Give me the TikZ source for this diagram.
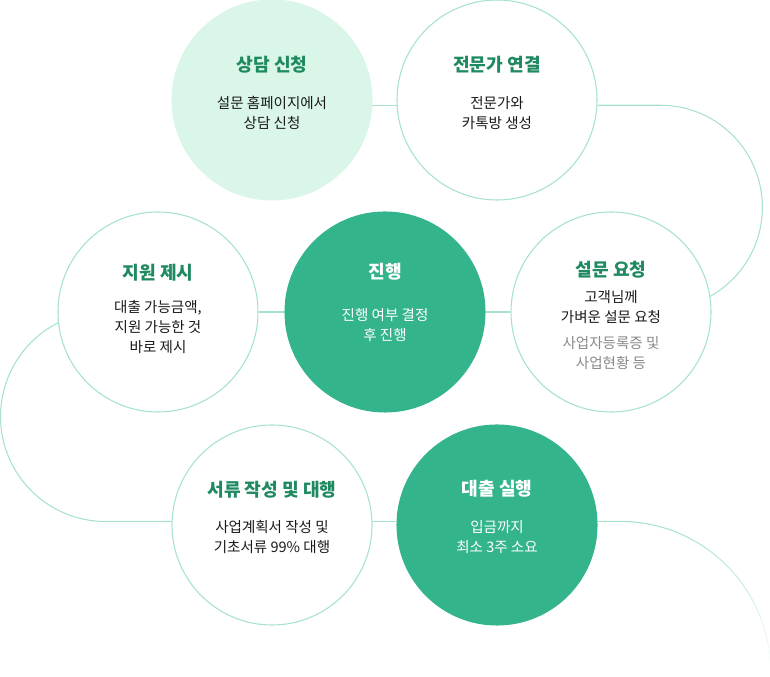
\documentclass[tikz,border=0pt]{standalone}
\usepackage{fontspec}
\setmainfont{Noto Sans CJK KR}
\usetikzlibrary{positioning, fadings}
\definecolor{stepline}{HTML}{A6E3C8}
\definecolor{steplight}{HTML}{DAF6E8}
\definecolor{stepgreen}{HTML}{34B48C}
\definecolor{steptitle}{HTML}{1F8A5F}
\definecolor{stepgray}{HTML}{8A8A8A}
\definecolor{stepbody}{HTML}{1A1A1A}

\begin{document}
\begin{tikzpicture}[x=0.75pt, y=0.75pt,
    stepdot/.style={circle, draw=stepline, line width=0.8pt, fill=white,
                    minimum size=150pt, inner sep=0pt},
    stepfull/.style={stepdot, draw=stepgreen, fill=stepgreen},
    titletext/.style={font=\fontsize{13.6}{15}\selectfont\bfseries, text=steptitle, inner sep=0pt},
    bodytext/.style={font=\fontsize{10.9}{15}\selectfont, text=stepbody, align=center, inner sep=0pt},
    link/.style={draw=stepline, line width=0.8pt}]
  \useasboundingbox (0,0) rectangle (770,677);

  % circles
  \node[stepdot, fill=steplight, draw=steplight] (sangdam) at (272,577) {};
  \node[stepdot] (jeonmunga) at (497,577) {};
  \node[stepdot] (jiwon) at (158,365) {};
  \node[stepfull] (jinhaeng) at (385,365) {};
  \node[stepdot] (seolmun) at (611,365) {};
  \node[stepdot] (seoryu) at (272,152) {};
  \node[stepfull] (daechul) at (497,152) {};

  % connectors
  \draw[link] (sangdam.-3) -- (jeonmunga.183);
  \draw[link] (jeonmunga.-3) -- ++(63,0) arc[start angle=90, end angle=-61, radius=102];
  \draw[link] (jiwon.east) -- (jinhaeng.west);
  \draw[link] (jinhaeng.east) -- (seolmun.west);
  \draw[link] (seoryu.178) -- ++(-66,0) arc[start angle=270, end angle=117, radius=105];
  \draw[link] (seoryu.2) -- (daechul.178);
  \draw[link, path fading=south] (daechul.2) -- ++(23,0) arc[start angle=90, end angle=0, radius=150];

  % texts
  \node[titletext] at ([yshift=26.3pt]sangdam.center) {상담 신청};
  \node[bodytext] at ([yshift=-9.8pt]sangdam.center) {설문 홈페이지에서\\상담 신청};

  \node[titletext] at ([yshift=26.3pt]jeonmunga.center) {전문가 연결};
  \node[bodytext] at ([yshift=-9.8pt]jeonmunga.center) {전문가와\\카톡방 생성};

  \node[titletext] at ([yshift=29.3pt]jiwon.center) {지원 제시};
  \node[bodytext] at ([yshift=-11.3pt]jiwon.center) {대출 가능금액,\\지원 가능한 것\\바로 제시};

  \node[titletext, text=white] at ([yshift=30pt]jinhaeng.center) {진행};
  \node[bodytext, text=white] at ([yshift=-10pt]jinhaeng.center) {진행 여부 결정\\후 진행};

  \node[titletext] at ([yshift=31.5pt]seolmun.center) {설문 요청};
  \node[bodytext] at ([yshift=3.4pt]seolmun.center) {고객님께\\가벼운 설문 요청};
  \node[bodytext, text=stepgray] at ([yshift=-30.8pt]seolmun.center) {사업자등록증 및\\사업현황 등};

  \node[titletext] at ([yshift=26.3pt]seoryu.center) {서류 작성 및 대행};
  \node[bodytext] at ([yshift=-9pt]seoryu.center) {사업계획서 작성 및\\기초서류 99\% 대행};

  \node[titletext, text=white] at ([yshift=27pt]daechul.center) {대출 실행};
  \node[bodytext, text=white] at ([yshift=-9pt]daechul.center) {입금까지\\최소 3주 소요};
\end{tikzpicture}
\end{document}
